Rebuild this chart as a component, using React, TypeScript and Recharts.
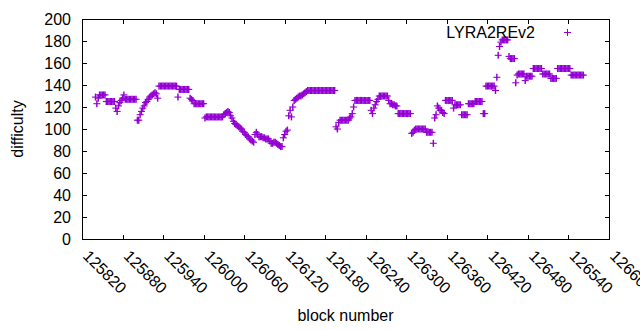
import { ScatterChart, Scatter, XAxis, YAxis, Legend } from "recharts";

// difficulty read every 2 blocks, starting at block 125840
const firstBlock = 125840;
const blockStep = 2;
const difficulty = [
  129, 123, 128, 131, 131, 131, 131, 131, 125, 125, // 125840
  125, 125, 125, 125, 125, 119, 116, 121, 124, 126, // 125860
  128, 131, 127, 127, 127, 127, 127, 127, 127, 127, // 125880
  127, 108, 108, 113, 116, 119, 121, 124, 125, 127, // 125900
  129, 130, 131, 132, 133, 132, 128, 139, 139, 139, // 125920
  139, 139, 139, 139, 139, 139, 139, 139, 139, 139, // 125940
  139, 129, 136, 136, 136, 136, 136, 136, 136, 136, // 125960
  128, 127, 126, 123, 123, 123, 123, 123, 123, 123, // 125980
  123, 110, 111, 111, 111, 111, 111, 111, 111, 111, // 126000
  111, 111, 111, 111, 111, 113, 114, 115, 116, 115, // 126020
  112, 110, 107, 105, 104, 103, 102, 101, 100, 98, // 126040
  97, 95, 94, 93, 91, 90, 89, 88, 95, 97, // 126060
  95, 93, 93, 93, 92, 92, 91, 91, 91, 89, // 126080
  87, 87, 88, 88, 87, 86, 85, 84, 84, 92, // 126100
  95, 98, 99, 112, 117, 111, 120, 126, 127, 128, // 126120
  129, 130, 130, 131, 132, 133, 134, 135, 135, 135, // 126140
  135, 135, 135, 135, 135, 135, 135, 135, 135, 135, // 126160
  135, 135, 135, 135, 135, 135, 135, 135, 102, 100, // 126180
  106, 108, 108, 108, 108, 108, 108, 108, 110, 111, // 126200
  114, 120, 126, 126, 126, 126, 126, 126, 126, 126, // 126220
  126, 126, 126, 126, 117, 114, 119, 122, 125, 127, // 126240
  130, 130, 130, 130, 130, 130, 130, 126, 123, 123, // 126260
  122, 122, 121, 121, 114, 114, 114, 114, 114, 114, // 126280
  114, 114, 114, 114, 96, 97, 99, 100, 100, 100, // 126300
  100, 100, 100, 100, 100, 97, 97, 97, 97, 97, // 126320
  87, 110, 113, 121, 119, 117, 117, 115, 114, 126, // 126340
  126, 126, 126, 126, 126, 119, 122, 122, 122, 122, // 126360
  122, 113, 113, 113, 113, 113, 123, 123, 123, 123, // 126380
  123, 125, 125, 125, 125, 125, 125, 114, 114, 139, // 126400
  139, 139, 139, 139, 139, 139, 135, 147, 167, 175, // 126420
  179, 181, 181, 181, 181, 181, 166, 164, 164, 164, // 126440
  164, 142, 149, 150, 150, 150, 150, 150, 144, 148, // 126460
  148, 148, 148, 148, 155, 155, 155, 155, 155, 155, // 126480
  155, 150, 150, 150, 150, 150, 150, 146, 146, 146, // 126500
  146, 146, 155, 155, 155, 155, 155, 155, 155, 155, // 126520
  155, 155, 149, 149, 149, 149, 149, 149, 149, 149, // 126540
  149, 149, // 126560
];

const blockTicks = [
  125820, 125880, 125940, 126000, 126060, 126120, 126180,
  126240, 126300, 126360, 126420, 126480, 126540, 126600,
];
const difficultyTicks = [0, 20, 40, 60, 80, 100, 120, 140, 160, 180, 200];
const seriesName = "LYRA2REv2";

const points = difficulty.map((d, i) => ({ block: firstBlock + i * blockStep, difficulty: d }));

const INK = "#9400d3";
const FONT = "'Liberation Sans', Arial, sans-serif";
const PLOT = { left: 82, right: 609, top: 19, bottom: 239 };
const TICK = 5;

// gnuplot-style "+" point; vertical arm a bit wider so neighbouring points merge into blocks
function Plus(props: any) {
  const { cx, cy } = props;
  if (cx == null || cy == null) return null;
  return (
    <g stroke={INK}>
      <line x1={cx - 3.5} y1={cy} x2={cx + 3.5} y2={cy} strokeWidth={1.1} />
      <line x1={cx} y1={cy - 3.5} x2={cx} y2={cy + 3.5} strokeWidth={1.45} />
    </g>
  );
}

function YTick(props: any) {
  const y = Math.round(props.y) + 0.5;
  return (
    <g>
      <line x1={PLOT.left} y1={y} x2={PLOT.left + TICK} y2={y} stroke="#000" />
      <line x1={PLOT.right + 1 - TICK} y1={y} x2={PLOT.right + 1} y2={y} stroke="#000" />
      <text x={71} y={props.y} textAnchor="end" dominantBaseline="central"
        fontFamily={FONT} fontSize={16} fill="#000">
        {props.payload.value}
      </text>
    </g>
  );
}

function XTick(props: any) {
  const x = Math.round(props.x) + 0.5;
  const ax = props.x + 4;
  const ay = 253;
  return (
    <g>
      <line x1={x} y1={PLOT.bottom + 1} x2={x} y2={PLOT.bottom + 1 - TICK} stroke="#000" />
      <line x1={x} y1={PLOT.top} x2={x} y2={PLOT.top + TICK} stroke="#000" />
      <text x={ax} y={ay} transform={`rotate(45 ${ax} ${ay})`} dominantBaseline="central"
        fontFamily={FONT} fontSize={16} fill="#000">
        {props.payload.value}
      </text>
    </g>
  );
}

function LegendBox() {
  return (
    <svg width={160} height={22} style={{ display: "block" }}>
      <text x={105} y={16} textAnchor="end" fontFamily={FONT} fontSize={16} fill="#000">
        {seriesName}
      </text>
      <g stroke={INK} strokeWidth={1}>
        <line x1={134} y1={10.5} x2={141} y2={10.5} />
        <line x1={137.5} y1={7} x2={137.5} y2={14} />
      </g>
    </svg>
  );
}

export default function App() {
  return (
    <div style={{ position: "absolute", left: 0, top: 0, width: 640, height: 330, background: "#fff" }}>
      <ScatterChart width={640} height={330} margin={{ top: 19, right: 31, bottom: 0, left: 0 }}>
        <XAxis
          type="number"
          dataKey="block"
          domain={[125820, 126600]}
          ticks={blockTicks}
          interval={0}
          height={91}
          axisLine={false}
          tickLine={false}
          tick={XTick}
          label={() => (
            <text x={(PLOT.left + PLOT.right) / 2} y={321} textAnchor="middle"
              fontFamily={FONT} fontSize={16} fill="#000">
              block number
            </text>
          )}
        />
        <YAxis
          type="number"
          dataKey="difficulty"
          domain={[0, 200]}
          ticks={difficultyTicks}
          interval={0}
          width={82}
          axisLine={false}
          tickLine={false}
          tick={YTick}
          label={() => (
            <text x={17} y={129} transform="rotate(-90 17 129)" textAnchor="middle"
              dominantBaseline="central" fontFamily={FONT} fontSize={16} fill="#000">
              difficulty
            </text>
          )}
        />
        <Legend
          layout="horizontal"
          align="center"
          verticalAlign="middle"
          wrapperStyle={{ top: 22, left: 430, width: 160, height: 22 }}
          content={() => <LegendBox />}
        />
        <Scatter name={seriesName} data={points} shape={Plus} isAnimationActive={false} />
      </ScatterChart>
      <div style={{
        position: "absolute", left: PLOT.left, top: PLOT.top,
        width: PLOT.right - PLOT.left + 1, height: PLOT.bottom - PLOT.top + 1,
        border: "1px solid #000", boxSizing: "border-box", pointerEvents: "none",
      }} />
    </div>
  );
}
